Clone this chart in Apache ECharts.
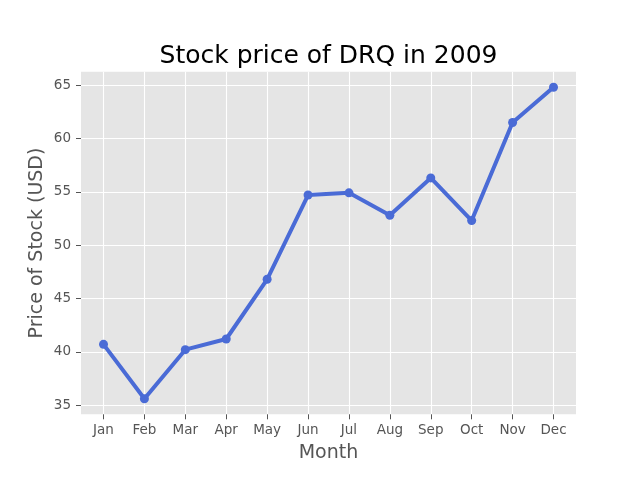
<!DOCTYPE html>
<html>
<head>
<meta charset="utf-8">
<script src="https://cdn.jsdelivr.net/npm/echarts@6/dist/echarts.min.js"></script>
<style>html,body{margin:0;padding:0;background:#fff}#c{width:640px;height:480px}</style>
</head>
<body>
<div id="c"></div>
<script>
const months = ['Jan','Feb','Mar','Apr','May','Jun','Jul','Aug','Sep','Oct','Nov','Dec'];
const prices = [40.7, 35.6, 40.2, 41.2, 46.8, 54.7, 54.9, 52.8, 56.3, 52.3, 61.5, 64.8];
const yTicks = [35, 40, 45, 50, 55, 60, 65];
const xTicks = months.map((m, i) => i);

const chart = echarts.init(document.getElementById('c'), null, {renderer: 'canvas'});
const font = 'DejaVu Sans';
chart.setOption({
  animation: false,
  backgroundColor: '#ffffff',
  title: {
    text: 'Stock price of DRQ in 2009',
    left: 323.5, textAlign: 'center', top: 39,
    textStyle: {fontFamily: font, fontSize: 25, fontWeight: 'normal', color: '#000'}
  },
  grid: {
    left: 81, right: 64, top: 71.7, bottom: 65.7,
    show: true, backgroundColor: '#E5E5E5', borderWidth: 0
  },
  xAxis: {
    type: 'value', min: -0.55, max: 11.55,
    name: 'Month', nameLocation: 'middle', nameGap: 29, nameMoveOverlap: false,
    nameTextStyle: {fontFamily: font, fontSize: 19, color: '#555555'},
    axisLine: {show: false, onZero: false},
    axisTick: {show: true, length: 5, lineStyle: {color: '#555555', width: 1}, customValues: xTicks},
    axisLabel: {fontFamily: font, fontSize: 13.5, color: '#555555', margin: 9, customValues: xTicks,
      formatter: v => months[Math.round(v)] || ''},
    splitLine: {show: true, lineStyle: {color: '#ffffff', width: 1.1}}
  },
  yAxis: {
    type: 'value', min: 34.14, max: 66.26,
    name: 'Price of Stock (USD)', nameLocation: 'middle', nameGap: 34, nameMoveOverlap: false,
    nameTextStyle: {fontFamily: font, fontSize: 19, color: '#555555'},
    axisLine: {show: false, onZero: false},
    axisTick: {show: true, length: 5, lineStyle: {color: '#555555', width: 1}, customValues: yTicks},
    axisLabel: {fontFamily: font, fontSize: 13.5, color: '#555555', margin: 10, customValues: yTicks},
    splitLine: {show: true, lineStyle: {color: '#ffffff', width: 1.1}}
  },
  series: [{
    type: 'line',
    data: prices.map((v, i) => [i, v]),
    symbol: 'circle', symbolSize: 9,
    lineStyle: {color: '#4A6BD6', width: 4},
    itemStyle: {color: '#4A6BD6'}
  }]
});
</script>
</body>
</html>
